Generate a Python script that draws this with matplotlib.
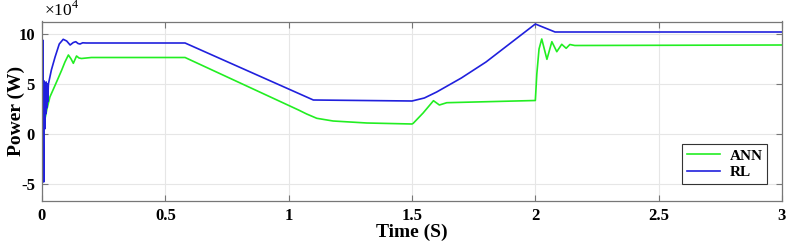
import matplotlib
matplotlib.use("Agg")
import matplotlib.pyplot as plt

# Time (s) and power (x1e4 W)
t_rl = [0, 0.003, 0.005, 0.007, 0.009, 0.011, 0.013, 0.015, 0.017, 0.019, 0.021,
        0.023, 0.026, 0.038, 0.053, 0.070, 0.086, 0.100, 0.114, 0.127, 0.137,
        0.146, 0.154, 0.165, 0.18, 0.58, 1.10, 1.50, 1.55, 1.60, 1.70, 1.80,
        1.90, 2.00, 2.04, 2.08, 3.0]
p_rl = [0, 9.4, 1.0, -4.8, 5.3, 0.5, 5.0, 2.0, 5.2, 2.6, 5.0,
        3.2, 5.0, 6.4, 7.7, 9.0, 9.47, 9.3, 8.9, 9.15, 9.23,
        9.05, 9.0, 9.12, 9.1, 9.1, 3.4, 3.3, 3.6, 4.2, 5.6, 7.2,
        9.1, 11.0, 10.6, 10.2, 10.2]

t_ann = [0, 0.004, 0.008, 0.012, 0.020, 0.032, 0.050, 0.066, 0.080, 0.093, 0.107,
         0.118, 0.127, 0.140, 0.150, 0.160, 0.20, 0.58, 1.04, 1.073, 1.114, 1.18,
         1.317, 1.50, 1.505, 1.545, 1.587, 1.611, 1.641, 2.0, 2.006, 2.015,
         2.026, 2.047, 2.067, 2.087, 2.107, 2.125, 2.14, 2.16, 3.0]
p_ann = [0, -1.0, 1.0, 1.5, 2.5, 3.7, 4.7, 5.6, 6.4, 7.2, 7.9,
         7.5, 7.07, 7.8, 7.6, 7.55, 7.65, 7.65, 2.4, 2.0, 1.57, 1.3,
         1.1, 1.0, 1.07, 2.1, 3.33, 2.9, 3.13, 3.35, 6.0, 8.5,
         9.5, 7.47, 9.23, 8.23, 8.97, 8.57, 8.95, 8.85, 8.9]

x_ticks = [0, 0.5, 1, 1.5, 2, 2.5, 3]
x_labels = ["0", "0.5", "1", "1.5", "2", "2.5", "3"]
y_ticks = [-5, 0, 5, 10]
y_labels = ["-5", "0", "5", "10"]

plt.rcParams['font.family'] = ['Liberation Serif', 'DejaVu Serif']
plt.rcParams['mathtext.fontset'] = 'custom'
plt.rcParams['mathtext.rm'] = 'Liberation Serif'

fig = plt.figure(figsize=(7.86, 2.48), dpi=100)
ax = fig.add_axes([42/786, 1-201/248, 740/786, (201-21.5)/248])

ax.plot(t_ann, p_ann, color='#22ee22', lw=1.2, label='ANN')
ax.plot(t_rl, p_rl, color='#2020dd', lw=1.2, label='RL')

ax.set_xlim(0, 3)
ax.set_ylim(-6.7, 11.25)
ax.set_xticks(x_ticks)
ax.set_xticklabels(x_labels)
ax.set_yticks(y_ticks)
ax.set_yticklabels(y_labels)
ax.grid(True, color='#e6e6e6', lw=0.8)
ax.set_axisbelow(True)
ax.tick_params(direction='in', length=4, width=0.8, color='#777777',
               top=True, right=True, labelsize=12, pad=5)
for lab in ax.get_xticklabels() + ax.get_yticklabels():
    lab.set_fontweight('bold')
for s in ax.spines.values():
    s.set_color('#777777')
    s.set_linewidth(0.9)

ax.set_xlabel('Time (S)', fontsize=14, fontweight='bold', labelpad=0)
ax.set_ylabel('Power (W)', fontsize=14, fontweight='bold')
ax.yaxis.set_label_coords(-17/740, 0.5)

fig.text(44/786, 1-10/248, r'$\times10^4$', fontsize=12.5, ha='left', va='center')

leg = ax.legend(loc='lower right', bbox_to_anchor=(767/786, 1-184/248),
                bbox_transform=fig.transFigure, fancybox=False, framealpha=1,
                edgecolor='#333333', prop={'weight': 'bold', 'size': 11},
                handlelength=2.2, borderpad=0.3, labelspacing=0.2,
                handletextpad=0.6, borderaxespad=0)
leg.get_frame().set_linewidth(0.8)

fig.savefig('out.png', dpi=100)
